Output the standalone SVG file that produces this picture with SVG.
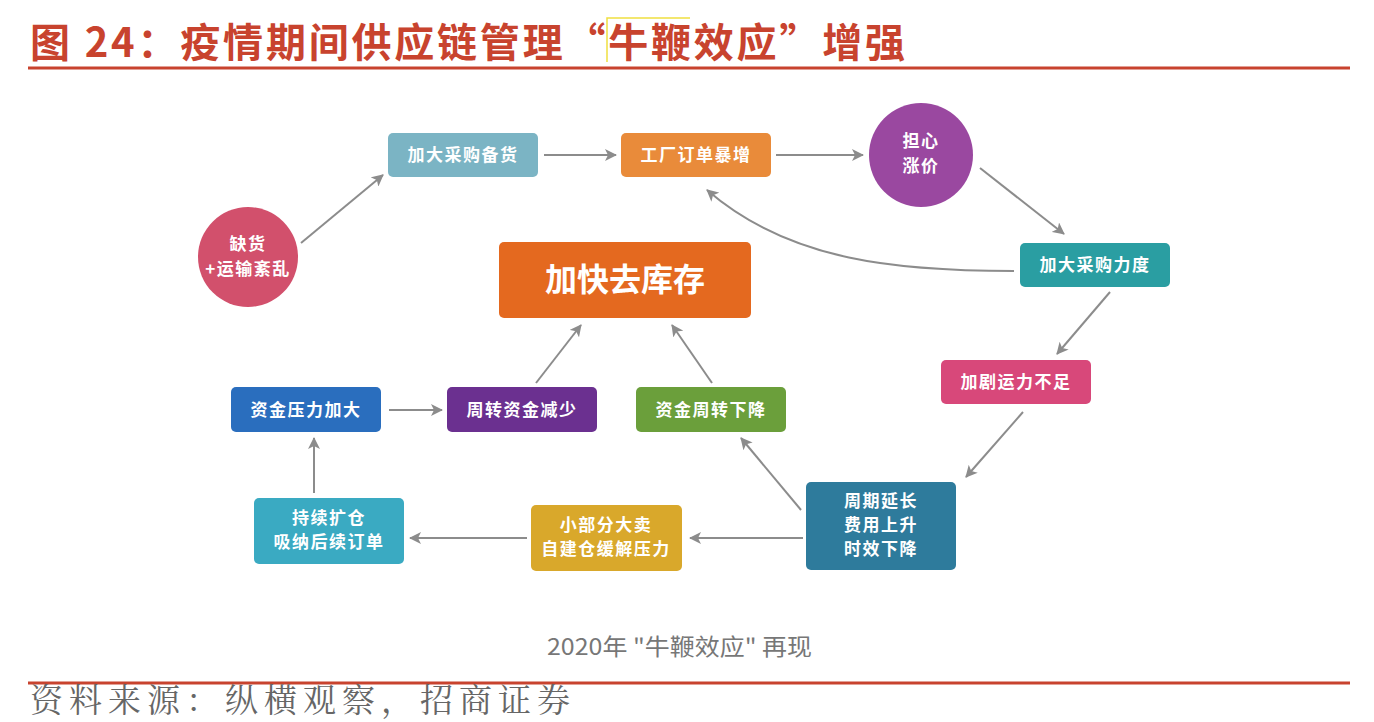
<svg xmlns="http://www.w3.org/2000/svg" width="1374" height="722" viewBox="0 0 1374 722">
<defs>
<marker id="ah" viewBox="0 0 12 12" refX="11" refY="6" markerWidth="12" markerHeight="12" markerUnits="userSpaceOnUse" orient="auto">
<path d="M0,0 L12,6 L0,12 L3,6 Z" fill="#8c8c8c"/>
</marker>
</defs>
<style>
text{font-family:"Noto Sans CJK SC","Noto Sans",sans-serif;}
.title{font-size:40px;font-weight:bold;fill:#c8432e;}
.lbl{font-size:17px;font-weight:bold;fill:#ffffff;text-anchor:middle;letter-spacing:1.5px;}
.big{font-size:32px;font-weight:bold;fill:#ffffff;text-anchor:middle;}
.cap{font-size:23px;fill:#777777;}
.src{font-size:33px;fill:#666666;font-family:"Noto Serif CJK SC","Noto Sans CJK SC",serif;}
.rule{stroke:#c8432e;stroke-width:3;}
.conn{fill:none;stroke:#8c8c8c;stroke-width:2;marker-end:url(#ah);}
</style>
<rect width="1374" height="722" fill="#ffffff"/>
<text class="title" x="30" y="57" textLength="875" lengthAdjust="spacing">图 24：疫情期间供应链管理“牛鞭效应”增强</text>
<polyline points="607,62 607,18 690,18" fill="none" stroke="#f0e040" stroke-width="1.5"/>
<line class="rule" x1="28" y1="68" x2="1350" y2="68"/>

<g id="connectors">
<line class="conn" x1="301" y1="243" x2="383" y2="175"/>
<line class="conn" x1="544" y1="155" x2="616" y2="155"/>
<line class="conn" x1="776" y1="155" x2="863" y2="155"/>
<line class="conn" x1="980" y1="168" x2="1064" y2="234"/>
<path class="conn" d="M1014,271 C900,271 790,262 707,190"/>
<line class="conn" x1="1110" y1="292" x2="1057" y2="354"/>
<line class="conn" x1="1023" y1="412" x2="966" y2="477"/>
<line class="conn" x1="801" y1="510" x2="741" y2="438"/>
<line class="conn" x1="803" y1="538" x2="690" y2="538"/>
<line class="conn" x1="527" y1="538" x2="410" y2="538"/>
<line class="conn" x1="314" y1="493" x2="314" y2="438"/>
<line class="conn" x1="389" y1="410" x2="442" y2="410"/>
<line class="conn" x1="536" y1="383" x2="581" y2="325"/>
<line class="conn" x1="712" y1="383" x2="672" y2="325"/>
</g>

<g id="n-quehuo">
<circle cx="248" cy="257" r="50" fill="#d2506c"/>
<text class="lbl" x="248" y="250">缺货</text>
<text class="lbl" x="248" y="275">+运输紊乱</text>
</g>
<g id="n-beihuo">
<rect x="388" y="133" width="150" height="44" rx="5" fill="#7bb4c4"/>
<text class="lbl" x="463" y="161">加大采购备货</text>
</g>
<g id="n-baozeng">
<rect x="621" y="133" width="150" height="44" rx="5" fill="#e98b3a"/>
<text class="lbl" x="696" y="161">工厂订单暴增</text>
</g>
<g id="n-danxin">
<circle cx="921" cy="155" r="52" fill="#9a48a0"/>
<text class="lbl" x="921" y="147">担心</text>
<text class="lbl" x="921" y="172">涨价</text>
</g>
<g id="n-lidu">
<rect x="1020" y="243" width="150" height="44" rx="5" fill="#2a9ea2"/>
<text class="lbl" x="1095" y="271">加大采购力度</text>
</g>
<g id="n-yunli">
<rect x="941" y="360" width="150" height="44" rx="5" fill="#d8487a"/>
<text class="lbl" x="1016" y="388">加剧运力不足</text>
</g>
<g id="n-zhouqi">
<rect x="806" y="482" width="150" height="88" rx="5" fill="#2e7b9c"/>
<text class="lbl" x="881" y="507">周期延长</text>
<text class="lbl" x="881" y="531">费用上升</text>
<text class="lbl" x="881" y="555">时效下降</text>
</g>
<g id="n-damai">
<rect x="531" y="505" width="151" height="66" rx="5" fill="#d9a82b"/>
<text class="lbl" x="606" y="531">小部分大卖</text>
<text class="lbl" x="606" y="555">自建仓缓解压力</text>
</g>
<g id="n-kuocang">
<rect x="254" y="498" width="150" height="66" rx="5" fill="#3aaac2"/>
<text class="lbl" x="329" y="524">持续扩仓</text>
<text class="lbl" x="329" y="548">吸纳后续订单</text>
</g>
<g id="n-yali">
<rect x="231" y="387" width="150" height="45" rx="5" fill="#2a6ebe"/>
<text class="lbl" x="306" y="416">资金压力加大</text>
</g>
<g id="n-jianshao">
<rect x="447" y="387" width="150" height="45" rx="5" fill="#6b3090"/>
<text class="lbl" x="522" y="416">周转资金减少</text>
</g>
<g id="n-xiajiang">
<rect x="636" y="387" width="150" height="45" rx="5" fill="#6b9f3b"/>
<text class="lbl" x="711" y="416">资金周转下降</text>
</g>
<g id="n-qukucun">
<rect x="499" y="242" width="252" height="76" rx="5" fill="#e4691f"/>
<text class="big" x="625" y="291">加快去库存</text>
</g>

<text class="cap" x="547" y="655" textLength="265" lengthAdjust="spacingAndGlyphs">2020年 "牛鞭效应" 再现</text>
<line class="rule" x1="28" y1="683" x2="1350" y2="683"/>
<text class="src" x="30" y="712" textLength="540" lengthAdjust="spacing">资料来源：纵横观察，招商证券</text>
</svg>
